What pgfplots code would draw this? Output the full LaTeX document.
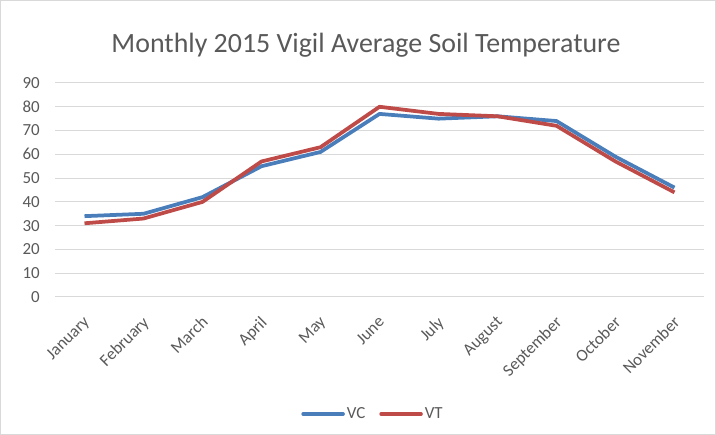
\documentclass[border=0pt]{standalone}
\usepackage{fontspec}
\setmainfont{Carlito}
\usepackage{pgfplots}
\pgfplotsset{compat=1.18}
\definecolor{vcblue}{HTML}{4A7EBB}
\definecolor{vtred}{HTML}{BE4B48}
\definecolor{gridgray}{HTML}{D9D9D9}
\definecolor{txt}{HTML}{595959}
\begin{document}
\begin{tikzpicture}[x=1bp,y=1bp]
\draw[gridgray, line width=0.75bp] (-54.5,296.5) rectangle (660.5,-137.5);
\begin{axis}[
  at={(0,0)}, anchor=south west,
  scale only axis, width=649bp, height=214bp,
  xmin=-0.5, xmax=10.5, ymin=0, ymax=90,
  ytick={0,10,...,90},
  xtick={0,...,10},
  xticklabels={January,February,March,April,May,June,July,August,September,October,November},
  x tick label style={xshift=-2bp, yshift=-18bp, rotate=45, anchor=north east, font=\fontsize{17}{20}\selectfont, text=txt, inner sep=0pt},
  y tick label style={font=\fontsize{17}{20}\selectfont, text=txt, xshift=-15bp, inner sep=0pt},
  /pgf/number format/assume math mode=true,
  xmajorgrids=false, ymajorgrids, major grid style={draw=gridgray, line width=1bp},
  axis line style={draw=none},
  major tick length=0pt,
  xtick style={draw=none}, ytick style={draw=none},
  clip=false,
  legend style={at={(0.49,-0.547)}, anchor=center, draw=none, fill=none, legend columns=2, font=\fontsize{17}{20}\selectfont, text=txt, /tikz/every even column/.append style={column sep=12bp}, /tikz/every odd column/.append style={column sep=0bp}, inner sep=0pt},
  legend image code/.code={\draw[#1, line width=3.5bp, line cap=round] (0bp,0bp) -- (40bp,0bp);},
  legend cell align=left,
]
\addplot[vcblue, line width=3.75bp, line join=round] coordinates {(0,34) (1,35) (2,42) (3,55) (4,61) (5,77) (6,75) (7,76) (8,74) (9,59) (10,46)};
\addlegendentry{VC}
\addplot[vtred, line width=3.75bp, line join=round] coordinates {(0,31) (1,33) (2,40) (3,57) (4,63) (5,80) (6,77) (7,76) (8,72) (9,57) (10,44)};
\addlegendentry{VT}
\end{axis}
\node[text=txt, font=\fontsize{28}{32}\selectfont] at (311,252) {Monthly 2015 Vigil Average Soil Temperature};
\pgfresetboundingbox
\path[use as bounding box] (-55,297) rectangle (661,-138);
\end{tikzpicture}
\end{document}
